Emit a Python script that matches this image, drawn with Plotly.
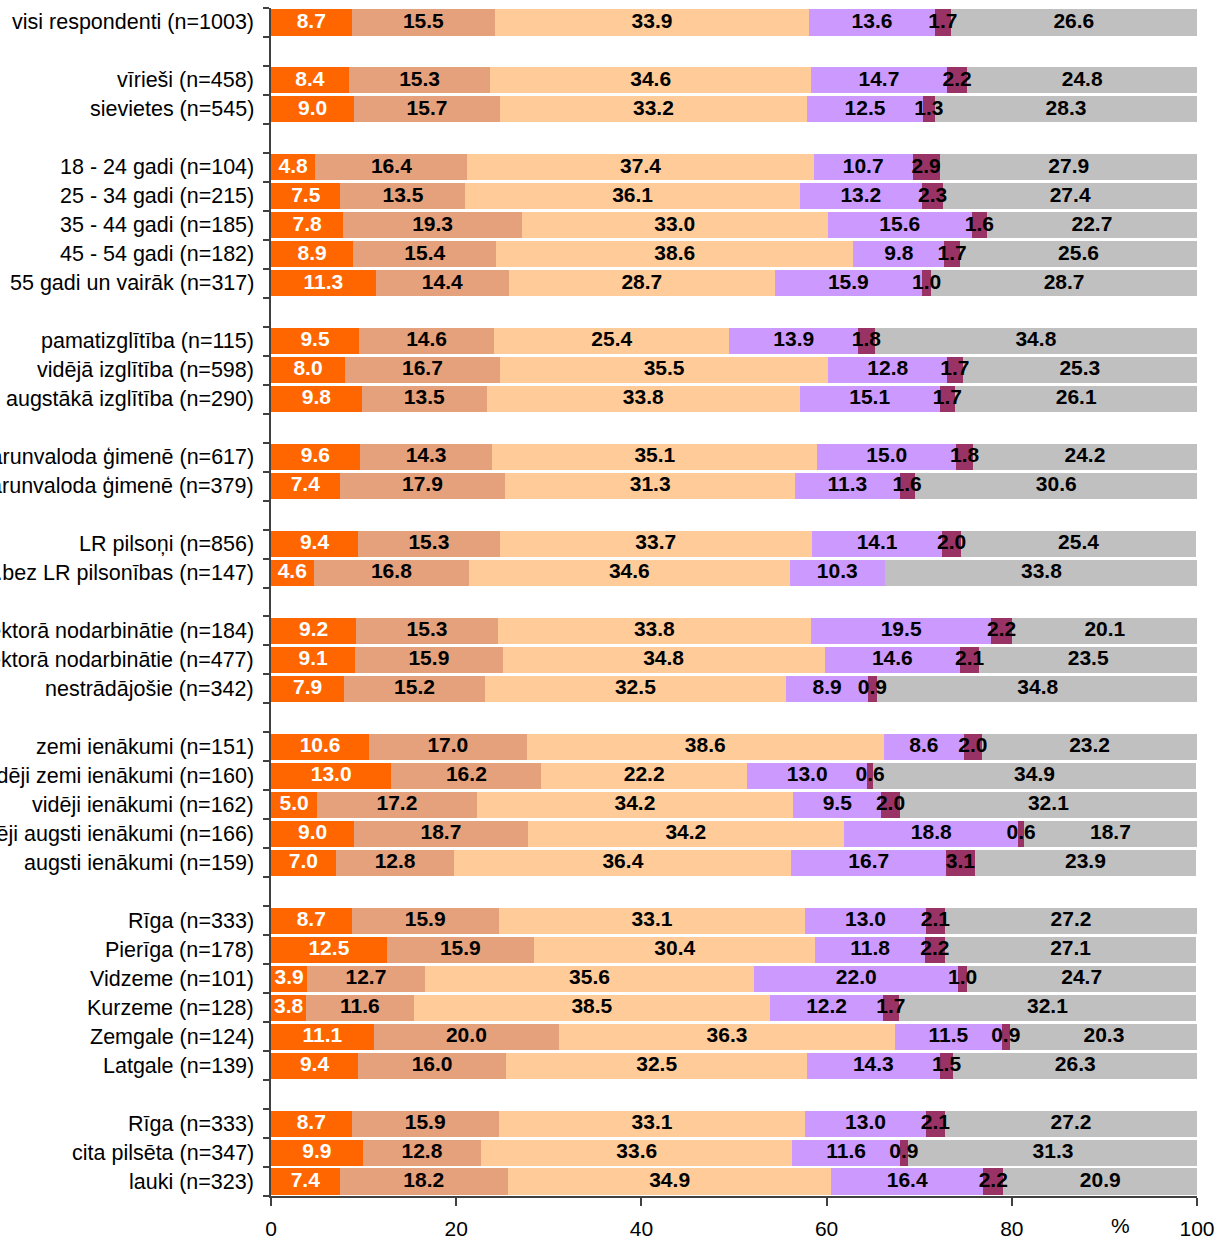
import plotly.graph_objects as go

categories = [
    "visi respondenti (n=1003)",
    "vīrieši (n=458)", "sievietes (n=545)",
    "18 - 24 gadi (n=104)", "25 - 34 gadi (n=215)", "35 - 44 gadi (n=185)",
    "45 - 54 gadi (n=182)", "55 gadi un vairāk (n=317)",
    "pamatizglītība (n=115)", "vidējā izglītība (n=598)", "augstākā izglītība (n=290)",
    "latviešu sarunvaloda ģimenē (n=617)", "krievu sarunvaloda ģimenē (n=379)",
    "LR pilsoņi (n=856)", "pastāvīgie iedz..bez LR pilsonības (n=147)",
    "publiskajā sektorā nodarbinātie (n=184)", "privātajā sektorā nodarbinātie (n=477)",
    "nestrādājošie (n=342)",
    "zemi ienākumi (n=151)", "vidēji zemi ienākumi (n=160)", "vidēji ienākumi (n=162)",
    "vidēji augsti ienākumi (n=166)", "augsti ienākumi (n=159)",
    "Rīga (n=333)", "Pierīga (n=178)", "Vidzeme (n=101)", "Kurzeme (n=128)",
    "Zemgale (n=124)", "Latgale (n=139)",
    "Rīga (n=333)", "cita pilsēta (n=347)", "lauki (n=323)",
]
group_sizes = [1, 2, 5, 3, 2, 2, 3, 5, 6, 3]

s1 = [8.7, 8.4, 9.0, 4.8, 7.5, 7.8, 8.9, 11.3, 9.5, 8.0, 9.8, 9.6, 7.4, 9.4, 4.6,
      9.2, 9.1, 7.9, 10.6, 13.0, 5.0, 9.0, 7.0, 8.7, 12.5, 3.9, 3.8, 11.1, 9.4,
      8.7, 9.9, 7.4]
s2 = [15.5, 15.3, 15.7, 16.4, 13.5, 19.3, 15.4, 14.4, 14.6, 16.7, 13.5, 14.3, 17.9,
      15.3, 16.8, 15.3, 15.9, 15.2, 17.0, 16.2, 17.2, 18.7, 12.8, 15.9, 15.9, 12.7,
      11.6, 20.0, 16.0, 15.9, 12.8, 18.2]
s3 = [33.9, 34.6, 33.2, 37.4, 36.1, 33.0, 38.6, 28.7, 25.4, 35.5, 33.8, 35.1, 31.3,
      33.7, 34.6, 33.8, 34.8, 32.5, 38.6, 22.2, 34.2, 34.2, 36.4, 33.1, 30.4, 35.6,
      38.5, 36.3, 32.5, 33.1, 33.6, 34.9]
s4 = [13.6, 14.7, 12.5, 10.7, 13.2, 15.6, 9.8, 15.9, 13.9, 12.8, 15.1, 15.0, 11.3,
      14.1, 10.3, 19.5, 14.6, 8.9, 8.6, 13.0, 9.5, 18.8, 16.7, 13.0, 11.8, 22.0,
      12.2, 11.5, 14.3, 13.0, 11.6, 16.4]
s5 = [1.7, 2.2, 1.3, 2.9, 2.3, 1.6, 1.7, 1.0, 1.8, 1.7, 1.7, 1.8, 1.6, 2.0, None,
      2.2, 2.1, 0.9, 2.0, 0.6, 2.0, 0.6, 3.1, 2.1, 2.2, 1.0, 1.7, 0.9, 1.5, 2.1,
      0.9, 2.2]
s6 = [26.6, 24.8, 28.3, 27.9, 27.4, 22.7, 25.6, 28.7, 34.8, 25.3, 26.1, 24.2, 30.6,
      25.4, 33.8, 20.1, 23.5, 34.8, 23.2, 34.9, 32.1, 18.7, 23.9, 27.2, 27.1, 24.7,
      32.1, 20.3, 26.3, 27.2, 31.3, 20.9]

series = [s1, s2, s3, s4, s5, s6]
series_names = ["1", "2", "3", "4", "5", "6"]
colors = ["#FF6600", "#E5A07C", "#FFCC99", "#CC99FF", "#993366", "#C0C0C0"]
text_colors = ["white", "black", "black", "black", "black", "black"]
x_ticks = [0, 20, 40, 60, 80, 100]

# row positions with one empty slot between groups
pos = []
p = 1
for g in group_sizes:
    for _ in range(g):
        pos.append(p)
        p += 1
    p += 1
nslots = pos[-1]

FONT = "Liberation Sans, Arial, sans-serif"
fig = go.Figure()

base = [0.0] * len(categories)
for vals, name, col, tcol in zip(series, series_names, colors, text_colors):
    fig.add_trace(go.Bar(
        x=vals, y=pos, orientation="h", name=name,
        marker=dict(color=col, line=dict(width=0)), width=0.9,
        showlegend=False, hoverinfo="skip",
    ))
    tx, ty, tt = [], [], []
    for i, v in enumerate(vals):
        if v is not None:
            tx.append(base[i] + v / 2)
            ty.append(pos[i])
            tt.append(f"{v:.1f}")
            base[i] += v
    fig.add_trace(go.Scatter(
        x=tx, y=ty, text=tt, mode="text", showlegend=False, hoverinfo="skip",
        textfont=dict(family=FONT, size=21, color=tcol, weight="bold"),
        cliponaxis=False,
    ))

for c, y in zip(categories, pos):
    fig.add_annotation(
        text=c, xref="paper", x=0, yref="y", y=y, xanchor="right", yanchor="middle",
        xshift=-15, showarrow=False, font=dict(family=FONT, size=21.5, color="black"),
    )

fig.add_annotation(
    text="%", xref="x", x=91.7, yref="paper", y=0, yanchor="middle", yshift=-29,
    showarrow=False, font=dict(family=FONT, size=21, color="black"),
)

fig.update_layout(
    width=1216, height=1239, barmode="stack", bargap=0,
    margin=dict(l=271, r=19, t=8, b=43, autoexpand=False),
    plot_bgcolor="white", paper_bgcolor="white",
    font=dict(family=FONT, size=21, color="black"),
    xaxis=dict(
        range=[0, 100], tickvals=x_ticks, ticks="outside", ticklen=8, tickwidth=1.5,
        tickcolor="#404040", showline=True, linecolor="#404040", linewidth=1.5,
        showgrid=False, zeroline=False, tickfont=dict(family=FONT, size=21),
        ticklabelstandoff=5, automargin=False,
    ),
    yaxis=dict(
        range=[nslots + 0.5, 0.5], tickvals=[k + 0.5 for k in range(nslots + 1)],
        ticks="outside", ticklen=6, tickwidth=1.5, tickcolor="#404040",
        showticklabels=False, showline=True, linecolor="#404040", linewidth=1.5,
        showgrid=False, zeroline=False, automargin=False,
    ),
)

fig.write_html(
    "out.html",
    config={"displayModeBar": False},
    post_script="document.body.style.margin='0';document.body.style.overflow='hidden';",
)
